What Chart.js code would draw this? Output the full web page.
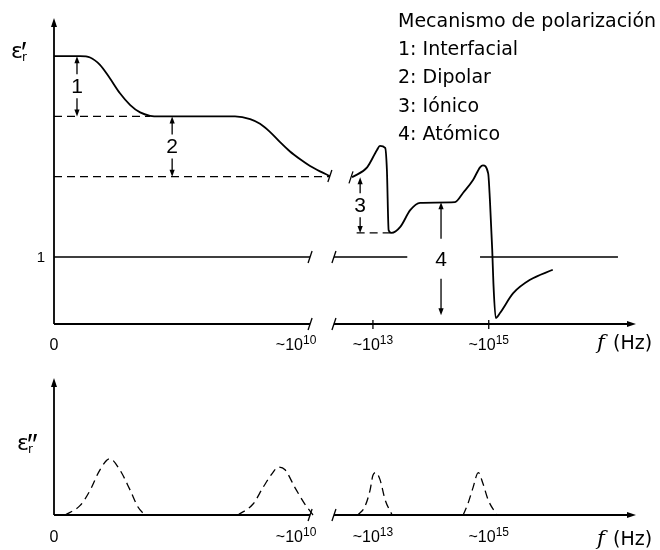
<!DOCTYPE html>
<html>
<head>
<meta charset="utf-8">
<script src="https://cdn.jsdelivr.net/npm/chart.js@4.4.0/dist/chart.umd.min.js"></script>
<style>
  html, body { margin: 0; padding: 0; background: #fff; }
  #wrap { position: relative; width: 660px; height: 550px; }
  canvas { position: absolute; left: 0; }
  #top { top: 0; }
  #bottom { top: 355px; }
</style>
</head>
<body>
<div id="wrap">
  <canvas id="top" width="660" height="355"></canvas>
  <canvas id="bottom" width="660" height="195"></canvas>
</div>
<script>
// schematic frequency position 0..100, axis broken between 44 and 48.1
var relaxX = [0, 4.5, 6.2, 7.9, 9.6, 11.3, 13.1, 14.8, 16.5, 18.2, 31.1, 33.7, 35.4, 37.1, 38.8, 40.5, 42.3, 44.0, 45.7, 47.4];
var relaxY = [4.0, 4.0, 3.98, 3.87, 3.67, 3.45, 3.27, 3.16, 3.11, 3.1, 3.1, 3.06, 2.99, 2.87, 2.72, 2.58, 2.46, 2.36, 2.28, 2.21];

var resonX = [51.2, 53.8, 55.5, 56.0, 56.9, 57.2, 57.5, 58.0, 59.5, 61.2, 62.9, 68.9, 70.3, 72.0, 73.2, 73.7, 74.6, 74.9, 75.3, 75.5, 75.9, 76.6, 78.9, 81.8, 85.7];
var resonY = [2.19, 2.34, 2.60, 2.66, 2.63, 2.30, 1.40, 1.36, 1.45, 1.70, 1.81, 1.82, 1.96, 2.15, 2.34, 2.37, 2.25, 1.85, 1.10, 0.61, 0.09, 0.16, 0.46, 0.66, 0.81];

var unityX = [0, 44, 46, 48.1, 60.7, 66, 73.2, 96.9];
var unityY = [1, 1, null, 1, 1, null, 1, 1];

var dipolarRefX = [0, 16.5];
var dipolarRefY = [3.1, 3.1];
var ionicRefX = [0, 47.4];
var ionicRefY = [2.2, 2.2];
var atomicRefX = [52, 58.0];
var atomicRefY = [1.36, 1.36];

var arrowX = [3.95, 20.3, 52.6, 66.5];
var arrowFrom = [4.0, 3.1, 2.19, 1.82];
var arrowTo = [3.1, 2.2, 1.36, 0.13];
var arrowLabels = ['1', '2', '3', '4'];

var lossX1 = [1.9, 4.5, 6.2, 7.9, 9.6, 11.3, 13.1, 14.4, 15.6];
var lossY1 = [0, 0.07, 0.18, 0.33, 0.41, 0.33, 0.18, 0.06, 0];
var lossX2 = [31.6, 34.2, 35.9, 37.6, 38.5, 39.7, 41.4, 43.1, 44.5];
var lossY2 = [0, 0.08, 0.20, 0.31, 0.35, 0.33, 0.20, 0.08, 0];
var lossX3 = [52.2, 53.4, 54.3, 54.8, 55.3, 56.0, 56.9, 58.1];
var lossY3 = [0, 0.06, 0.18, 0.29, 0.31, 0.26, 0.11, 0];
var lossX4 = [70.3, 71.1, 72.0, 72.9, 73.7, 74.6, 76.1];
var lossY4 = [0, 0.08, 0.20, 0.31, 0.23, 0.11, 0];

var tickPos = [0, 41.6, 54.8, 74.7];
var tickBase = ['0', '~10', '~10', '~10'];
var tickExp = ['', '10', '13', '15'];
var tickMarks = [54.8, 74.7];
var axisBreak = [44, 48.1];

var legendTitle = 'Mecanismo de polarización';
var mechanisms = ['1: Interfacial', '2: Dipolar', '3: Iónico', '4: Atómico'];

var SANS = '"DejaVu Sans", sans-serif';
var ARIAL = '"Liberation Sans", Arial, sans-serif';

function pts(xs, ys) {
  return xs.map(function (x, i) { return { x: x, y: ys[i] }; });
}

function solid(xs, ys, w) {
  return { data: pts(xs, ys), borderColor: '#000', borderWidth: w || 1.8, pointRadius: 0,
           cubicInterpolationMode: 'monotone', spanGaps: false, clip: false };
}
function dashed(xs, ys) {
  return { data: pts(xs, ys), borderColor: '#000', borderWidth: 1.3, borderDash: [8, 5],
           pointRadius: 0, cubicInterpolationMode: 'monotone', clip: false };
}

function head(ctx, x, y, dx, dy, len, half) {
  // tip at x,y pointing in direction dx,dy
  ctx.beginPath();
  ctx.moveTo(x, y);
  ctx.lineTo(x - dx * len - dy * half, y - dy * len - dx * half);
  ctx.lineTo(x - dx * len + dy * half, y - dy * len + dx * half);
  ctx.closePath();
  ctx.fill();
}

function slash(ctx, x, y) {
  ctx.beginPath();
  ctx.moveTo(x - 2, y + 6);
  ctx.lineTo(x + 2, y - 6);
  ctx.stroke();
}

function drawAxes(ctx, xs, ys, withMarks) {
  var x0 = xs.getPixelForValue(0), y0 = ys.getPixelForValue(0);
  var xb1 = xs.getPixelForValue(axisBreak[0]), xb2 = xs.getPixelForValue(axisBreak[1]);
  var xr = xs.getPixelForValue(100);
  ctx.strokeStyle = '#000';
  ctx.fillStyle = '#000';
  ctx.lineWidth = 1.8;
  ctx.beginPath();
  ctx.moveTo(x0, y0); ctx.lineTo(x0, ys.top + 4);
  ctx.moveTo(x0, y0); ctx.lineTo(xb1, y0);
  ctx.moveTo(xb2, y0); ctx.lineTo(xr - 4, y0);
  ctx.stroke();
  head(ctx, x0, ys.top, 0, -1, 9, 3);
  head(ctx, xr, y0, 1, 0, 9, 3);
  ctx.lineWidth = 1.3;
  slash(ctx, xb1, y0);
  slash(ctx, xb2, y0);
  if (withMarks) {
    tickMarks.forEach(function (v) {
      var x = xs.getPixelForValue(v);
      ctx.beginPath(); ctx.moveTo(x, y0 - 4); ctx.lineTo(x, y0 + 5); ctx.stroke();
    });
  }
}

function drawTicks(ctx, xs, y) {
  ctx.fillStyle = '#000';
  ctx.textBaseline = 'alphabetic';
  tickPos.forEach(function (v, i) {
    ctx.font = '16px ' + ARIAL;
    var wb = ctx.measureText(tickBase[i]).width;
    ctx.font = '12px ' + ARIAL;
    var we = ctx.measureText(tickExp[i]).width;
    var x = xs.getPixelForValue(v) - (wb + we) / 2;
    ctx.font = '16px ' + ARIAL;
    ctx.textAlign = 'left';
    ctx.fillText(tickBase[i], x, y);
    ctx.font = '12px ' + ARIAL;
    ctx.fillText(tickExp[i], x + wb, y - 6);
  });
}

function drawUnit(ctx, x, y) {
  ctx.fillStyle = '#000';
  ctx.textAlign = 'left';
  ctx.textBaseline = 'alphabetic';
  ctx.font = 'italic 21px "DejaVu Serif", serif';
  ctx.fillText('f', x, y);
  ctx.font = '19px ' + SANS;
  ctx.fillText('(Hz)', x + 16, y);
}

function drawEps(ctx, x, y, prime) {
  ctx.fillStyle = '#000';
  ctx.textAlign = 'left';
  ctx.textBaseline = 'alphabetic';
  ctx.font = '22px ' + SANS;
  ctx.fillText('ε', x, y);
  var w = ctx.measureText('ε').width;
  ctx.font = '12px ' + SANS;
  ctx.fillText('r', x + w - 1, y + 3);
  ctx.font = '30px "Liberation Sans", sans-serif';
  ctx.fillText(prime, x + w - 2, y + 4);
}

var topDecor = {
  id: 'topDecor',
  afterDatasetsDraw: function (chart) {
    var ctx = chart.ctx, xs = chart.scales.x, ys = chart.scales.y;
    ctx.save();
    drawAxes(ctx, xs, ys, true);

    // break marks on the broken curves
    ctx.lineWidth = 1.3;
    slash(ctx, xs.getPixelForValue(relaxX[relaxX.length - 1]), ys.getPixelForValue(relaxY[relaxY.length - 1]));
    slash(ctx, xs.getPixelForValue(resonX[0]) - 1, ys.getPixelForValue(resonY[0]));
    slash(ctx, xs.getPixelForValue(axisBreak[0]), ys.getPixelForValue(1));
    slash(ctx, xs.getPixelForValue(axisBreak[1]), ys.getPixelForValue(1));

    // double arrows with numbers
    ctx.lineWidth = 1.3;
    arrowX.forEach(function (v, i) {
      var x = xs.getPixelForValue(v);
      var y1 = ys.getPixelForValue(arrowFrom[i]);
      var y2 = ys.getPixelForValue(arrowTo[i]);
      var mid = (y1 + y2) / 2;
      var gap = (y2 - y1) > 80 ? 20 : 12;
      ctx.beginPath();
      ctx.moveTo(x, y1 + 4); ctx.lineTo(x, mid - gap);
      ctx.moveTo(x, mid + gap); ctx.lineTo(x, y2 - 4);
      ctx.stroke();
      head(ctx, x, y1, 0, -1, 7, 2.6);
      head(ctx, x, y2, 0, 1, 7, 2.6);
      ctx.font = '21px ' + ARIAL;
      ctx.textAlign = 'center';
      ctx.textBaseline = 'middle';
      ctx.fillText(arrowLabels[i], x, mid + 1);
    });

    // y label "1"
    ctx.font = '15px ' + ARIAL;
    ctx.textAlign = 'right';
    ctx.textBaseline = 'middle';
    ctx.fillText('1', xs.getPixelForValue(0) - 9, ys.getPixelForValue(1) + 1);

    drawTicks(ctx, xs, 350);
    drawUnit(ctx, 597, 349);
    drawEps(ctx, 11, 58, '′');

    // mechanism list
    ctx.font = '19px ' + SANS;
    ctx.textAlign = 'left';
    ctx.textBaseline = 'middle';
    ctx.fillText(legendTitle, 398, 22);
    mechanisms.forEach(function (m, i) {
      ctx.fillText(m, 398, 50 + i * 28.3);
    });
    ctx.restore();
  }
};

var bottomDecor = {
  id: 'bottomDecor',
  afterDatasetsDraw: function (chart) {
    var ctx = chart.ctx, xs = chart.scales.x, ys = chart.scales.y;
    ctx.save();
    drawAxes(ctx, xs, ys, false);
    drawTicks(ctx, xs, 187);
    drawUnit(ctx, 597, 190);
    drawEps(ctx, 17, 95, '″');
    ctx.restore();
  }
};

function baseOptions(ymax, pad) {
  return {
    responsive: false,
    animation: false,
    events: [],
    devicePixelRatio: 1,
    layout: { padding: pad },
    plugins: { legend: { display: false }, tooltip: { enabled: false } },
    elements: { point: { radius: 0 } },
    scales: {
      x: { type: 'linear', min: 0, max: 100, display: false },
      y: { type: 'linear', min: 0, max: ymax, display: false }
    }
  };
}

new Chart(document.getElementById('top').getContext('2d'), {
  type: 'line',
  data: {
    datasets: [
      solid(relaxX, relaxY),
      solid(resonX, resonY),
      solid(unityX, unityY, 1.6),
      dashed(dipolarRefX, dipolarRefY),
      dashed(ionicRefX, ionicRefY),
      dashed(atomicRefX, atomicRefY)
    ]
  },
  options: baseOptions(4.57, { left: 54, right: 24, top: 18, bottom: 31 }),
  plugins: [topDecor]
});

new Chart(document.getElementById('bottom').getContext('2d'), {
  type: 'line',
  data: {
    datasets: [
      dashed(lossX1, lossY1),
      dashed(lossX2, lossY2),
      dashed(lossX3, lossY3),
      dashed(lossX4, lossY4)
    ]
  },
  options: baseOptions(1, { left: 54, right: 24, top: 23, bottom: 35 }),
  plugins: [bottomDecor]
});
</script>
</body>
</html>
